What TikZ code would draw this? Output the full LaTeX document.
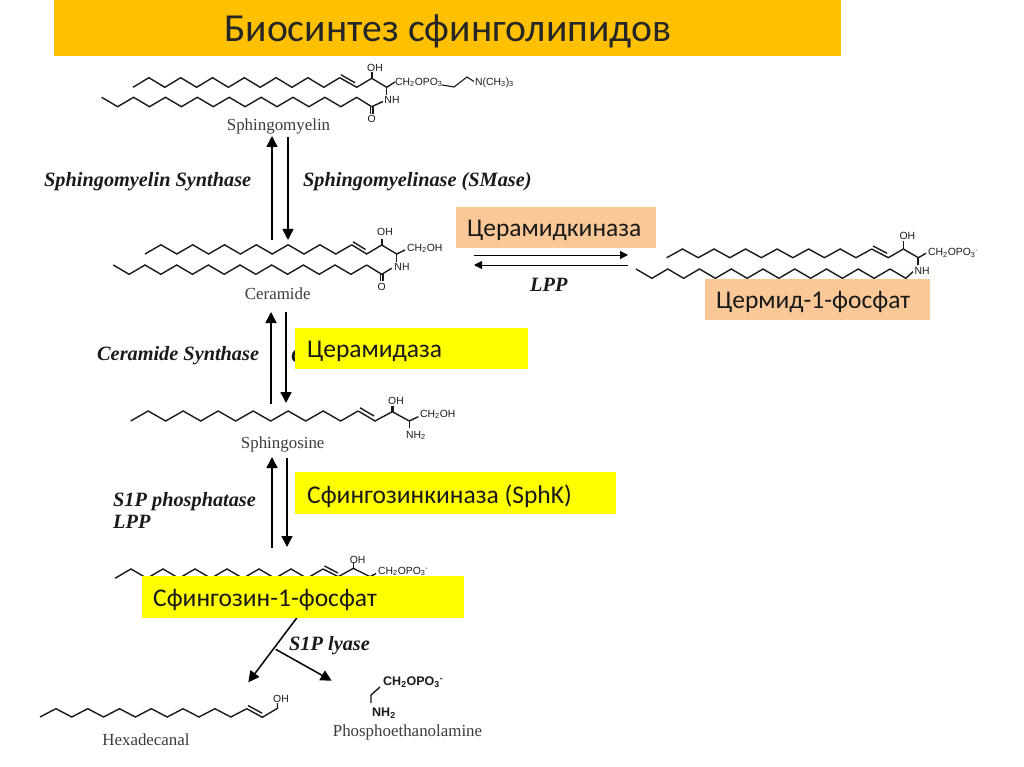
\documentclass[tikz,border=0pt]{standalone}
\usepackage{fontspec}
\setmainfont{Liberation Serif}
\newfontfamily\rufont{Carlito}
\newfontfamily\chemfont{Liberation Sans}
\usetikzlibrary{arrows.meta}
\definecolor{titleor}{HTML}{FFC000}
\definecolor{peach}{HTML}{FAC896}
\definecolor{yell}{HTML}{FFFF00}
\definecolor{ink}{HTML}{1A1A1A}
\newcommand\chain[5]{\draw[bond] (#1,#2) \foreach \i in {1,...,#5} { -- ({#1+\i*#3},{#2-mod(\i,2)*#4}) };}
\tikzset{
  bond/.style={draw=ink,line width=1.4pt,line join=miter},
  wedge/.style={draw=ink,line width=2.4pt},
  rxn/.style={draw=black,line width=1.5pt,-{Triangle[length=11pt,width=11pt]}},
  thinrxn/.style={draw=black,line width=1pt,-{Triangle[length=8pt,width=8pt]}},
  enz/.style={font=\fontsize{20.3}{22}\selectfont\bfseries\itshape,text=ink,inner sep=0pt,anchor=west},
  molname/.style={font=\fontsize{16.9}{18}\selectfont,text=ink!85,inner sep=0pt},
  atom/.style={font=\chemfont\fontsize{10.4}{12}\selectfont,text=ink,inner sep=0pt},
  boxtext/.style={font=\rufont\fontsize{25.5}{28}\selectfont,text=black!90,inner sep=0pt,anchor=west},
}
\begin{document}
\begin{tikzpicture}[x=1pt,y=-1pt]
\useasboundingbox (0,0) rectangle (1024,767);
\fill[white] (0,0) rectangle (1024,767);

% Sphingomyelin
\chain{133}{87.3}{15.9}{9.6}{13}
\draw[bond] (339.7,77.7) -- (356.7,87.3) -- (371.7,78.3) -- (386.7,87.3) -- (395,82);
\draw[bond] (341,74.8) -- (355,82.8);
\draw[wedge] (371.7,78.3) -- (371.7,72);
\draw[bond] (386.7,87.3) -- (386.7,95);
\chain{101.7}{97.3}{15.94}{-9.4}{16}
\draw[bond] (356.7,97.3) -- (371.7,106.7) -- (383,101.5);
\draw[bond,line width=1.1pt] (370.4,106.7) -- (370.4,114) (373,106.7) -- (373,114);
\draw[bond,line width=1.1pt] (442,85) -- (454,87) -- (467,77) -- (474,81.5);
\node[atom] (smOH) at (375,68) {OH};
\node[atom] (smNH) at (392,99.5) {NH};
\node[atom] (smO) at (371.7,119) {O};
\node[atom,anchor=west] (smP) at (395,82.5) {CH\textsubscript{2}OPO\textsubscript{3}};
\node[atom,anchor=west] (smN) at (475,82.5) {N(CH\textsubscript{3})\textsubscript{3}};
\node[molname] (sm) at (278.5,126) {Sphingomyelin};

% Ceramide
\chain{145}{254}{15.9}{9.2}{13}
\draw[bond] (351.7,244.8) -- (366.7,254) -- (381.7,245) -- (396.7,254) -- (405,250);
\draw[bond] (353,241.8) -- (365.5,249.5);
\draw[wedge] (381.7,245) -- (381.7,239);
\draw[bond] (396.7,254) -- (396.7,262);
\chain{113.3}{265}{15.84}{-9.3}{16}
\draw[bond] (366.7,265) -- (381.7,274.3) -- (391.7,268.3);
\draw[bond,line width=1.1pt] (380.4,274.3) -- (380.4,281) (383,274.3) -- (383,281);
\node[atom] (cerOH) at (385,231.5) {OH};
\node[atom] (cerNH) at (402,267) {NH};
\node[atom] (cerO) at (381.7,286.5) {O};
\node[atom,anchor=west] (cerC) at (407,248.5) {CH\textsubscript{2}OH};
\node[molname] (cer) at (277.7,294) {Ceramide};

% Ceramide-1-phosphate
\chain{666.7}{257.7}{15.77}{8.7}{13}
\draw[bond] (871.7,249) -- (888.3,257.7) -- (903.3,249) -- (918.3,257.7) -- (926,253.3);
\draw[bond] (873,246) -- (887,253.3);
\draw[bond] (903.3,249) -- (903.3,241);
\draw[wedge,line width=2pt] (918.3,257.7) -- (918.3,265);
\chain{636}{269}{15.875}{-9.3}{16}
\draw[bond] (890,269) -- (905.8,278.3) -- (913,271.7);
\node[atom] (cpOH) at (907.3,235.5) {OH};
\node[atom] (cpNH) at (922,270.5) {NH};
\node[atom,anchor=west] (cpP) at (928,253) {CH\textsubscript{2}OPO\textsubscript{3}\textsuperscript{-}};

% Sphingosine
\chain{130.7}{421}{17.5}{10}{13}
\draw[bond] (358.2,411) -- (375,421) -- (392.3,411.7) -- (409.3,421) -- (418.3,416.7);
\draw[bond] (360,407.8) -- (374,416);
\draw[wedge] (392.3,411.7) -- (392.3,405.5);
\draw[bond] (409.3,421) -- (409.3,428);
\node[atom] (soOH) at (396,400.5) {OH};
\node[atom,anchor=west] (soC) at (420,414.5) {CH\textsubscript{2}OH};
\node[atom] (soN) at (416,435.5) {NH\textsubscript{2}};
\node[molname] (so) at (282.7,444) {Sphingosine};

% S1P
\chain{115}{578.3}{16}{9.3}{13}
\draw[bond] (323,569) -- (338.3,576.7) -- (353.3,568.3) -- (370,576.7) -- (376,573.5);
\draw[bond] (324.5,566) -- (338,573);
\draw[bond] (353.3,568.3) -- (353.3,563);
\node[atom] (spOH) at (357.7,559.5) {OH};
\node[atom,anchor=west] (spP) at (378,571.5) {CH\textsubscript{2}OPO\textsubscript{3}\textsuperscript{-}};

% Hexadecanal
\chain{40}{717}{15.9}{8.3}{13}
\draw[bond] (246.7,708.7) -- (262.3,717.3) -- (277.5,708.3) -- (277.5,703);
\draw[bond] (248,705.5) -- (262,713.2);
\node[atom] (hxOH) at (281,698.5) {OH};
\node[molname] (hx) at (146,740) {Hexadecanal};

% Phosphoethanolamine
\draw[bond] (380,687) -- (371,695) -- (371,703);
\node[atom,font=\chemfont\bfseries\fontsize{12.5}{14}\selectfont,anchor=west] (peP) at (383,682.5) {CH\textsubscript{2}OPO\textsubscript{3}\textsuperscript{-}};
\node[atom,font=\chemfont\bfseries\fontsize{12.5}{14}\selectfont,anchor=west] (peN) at (372,713.5) {NH\textsubscript{2}};
\node[molname] (pe) at (407.5,732) {Phosphoethanolamine};

% Enzyme labels
\node[enz] (e1) at (44,181.5) {Sphingomyelin Synthase};
\node[enz] (e2) at (303,181.5) {Sphingomyelinase (SMase)};
\node[enz] (e3) at (97,355.5) {Ceramide Synthase};
\node[enz] (e3b) at (291,355.5) {C};
\node[enz] (e4) at (113,502) {S1P phosphatase};
\node[enz] (e5) at (113,522) {LPP};
\node[enz] (e6) at (530,284.5) {LPP};
\node[enz] (e7) at (289,645.5) {S1P lyase};

% Reaction arrows
\coordinate (a1b) at (272,240); \coordinate (a1t) at (272,136);
\coordinate (a2t) at (288,137); \coordinate (a2b) at (288,240);
\coordinate (a3b) at (271,404); \coordinate (a3t) at (271,312);
\coordinate (a4t) at (286,312); \coordinate (a4b) at (286,403);
\coordinate (a5b) at (272,548); \coordinate (a5t) at (272,457);
\coordinate (a6t) at (287,458); \coordinate (a6b) at (287,547);
\coordinate (h1l) at (474,255); \coordinate (h1r) at (628,255);
\coordinate (h2r) at (628,265); \coordinate (h2l) at (474,265);
\coordinate (l1) at (296.7,618); \coordinate (l2) at (248.3,682.3);
\coordinate (l3) at (275.7,649.3); \coordinate (l4) at (331.7,680.7);
\draw[rxn] (a1b) -- (a1t);
\draw[rxn] (a2t) -- (a2b);
\draw[rxn] (a3b) -- (a3t);
\draw[rxn] (a4t) -- (a4b);
\draw[rxn] (a5b) -- (a5t);
\draw[rxn] (a6t) -- (a6b);
\draw[thinrxn] (h1l) -- (h1r);
\draw[thinrxn] (h2r) -- (h2l);
\draw[rxn] (l1) -- (l2);
\draw[rxn] (l3) -- (l4);

% Coloured boxes
\fill[titleor] (54,0) rectangle (841,56);
\node[font=\rufont\fontsize{39.7}{42}\selectfont,text=black!85,inner sep=0pt,anchor=west] (title) at (224,31) {Биосинтез сфинголипидов};
\fill[peach] (456,207) rectangle (656,248);
\node[boxtext] (b1) at (467,230) {Церамидкиназа};
\fill[peach] (705,279.3) rectangle (930,320);
\node[boxtext] (b2) at (716,302) {Цермид-1-фосфат};
\fill[yell] (295,328) rectangle (528,369);
\node[boxtext] (b3) at (307,351) {Церамидаза};
\fill[yell] (295,472) rectangle (616,514);
\node[boxtext] (b4) at (307,496) {Сфингозинкиназа (SphK)};
\fill[yell] (142,576) rectangle (464,618);
\node[boxtext] (b5) at (153,600) {Сфингозин-1-фосфат};
\end{tikzpicture}
\end{document}
